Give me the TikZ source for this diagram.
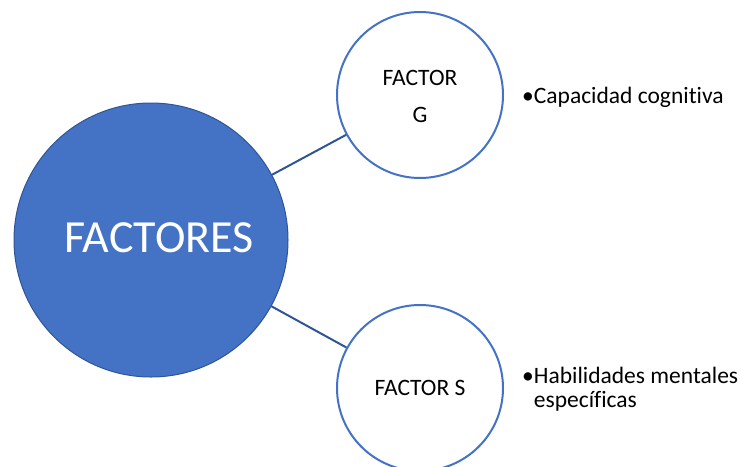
\documentclass[tikz,border=0pt]{standalone}
\usepackage{fontspec}
\setmainfont{Carlito}[Ligatures=NoCommon]
\definecolor{accent}{HTML}{4472C4}
\definecolor{accentdark}{HTML}{2F5597}
\begin{document}
\begin{tikzpicture}[x=1pt,y=-1pt,
  bigcircle/.style={circle, fill=accent, draw=accentdark, line width=1pt, minimum size=274pt, inner sep=0pt},
  factorcircle/.style={circle, fill=white, draw=accent, line width=2pt, minimum size=166pt, inner sep=0pt},
  conn/.style={draw=accentdark, line width=2pt},
  bigtext/.style={text=white, font=\fontsize{46}{50}\selectfont, inner sep=0pt},
  smalltext/.style={text=black, font=\fontsize{23.5}{24}\selectfont, inner sep=0pt, anchor=base},
  bullettext/.style={smalltext, anchor=base west}]
\useasboundingbox (0,0) rectangle (743,466);

% hub and the two factor circles
\node[bigcircle] (main) at (151,240) {};
\node[factorcircle] (g) at (420,95) {};
\node[factorcircle] (s) at (420,388) {};

% spokes
\draw[conn] (main) -- (g);
\draw[conn] (main) -- (s);

% labels
\node[bigtext] (mainlabel) at (159,238) {FACTORES};
\node[smalltext] (glabel1) at (420,85) {FACTOR};
\node[smalltext] (glabel2) at (420,122) {G};
\node[smalltext] (slabel) at (420,395) {FACTOR S};

% descriptions
\node[bullettext] (gdesc) at (522,103) {•Capacidad cognitiva};
\node[bullettext] (sdesc) at (522,383) {•\begin{tabular}[t]{@{}l@{}}Habilidades mentales\\específicas\end{tabular}};
\end{tikzpicture}
\end{document}
